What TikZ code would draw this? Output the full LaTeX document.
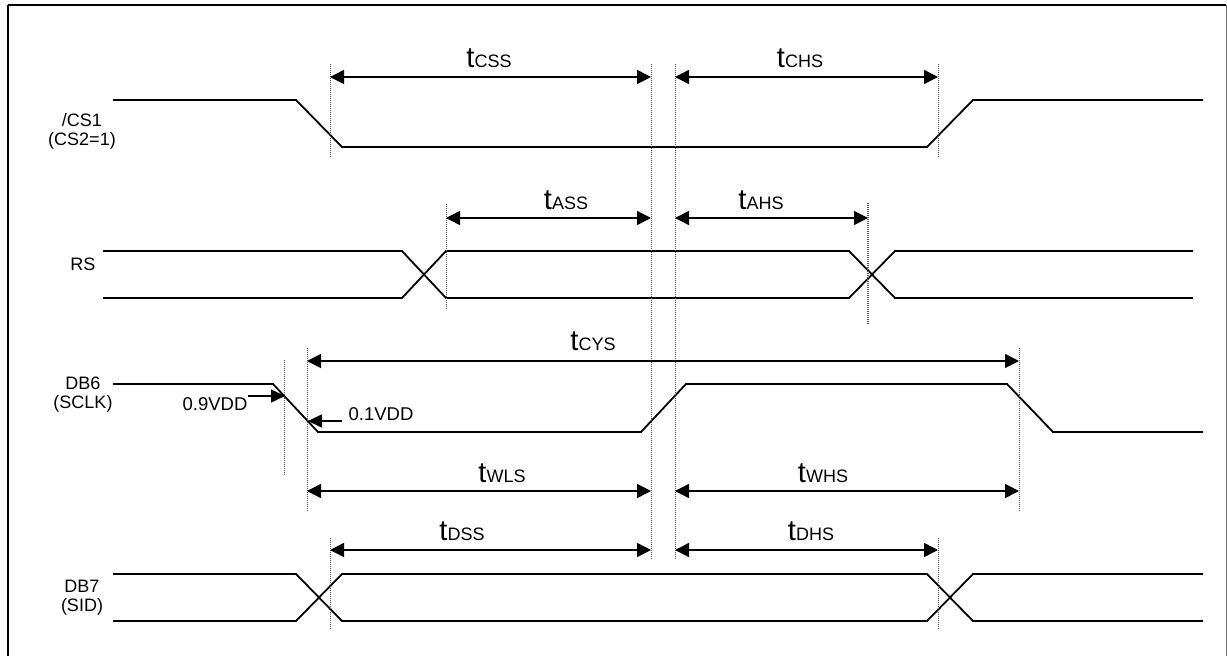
\documentclass[tikz,border=0pt]{standalone}
\usepackage{fontspec}
\setmainfont{Liberation Sans}
\usetikzlibrary{arrows.meta}
\tikzset{
    wave/.style = {line width=1.8pt, line join=miter},
    guide/.style = {line width=0.9pt, draw=black!65, dash pattern=on 1pt off 1pt},
    span/.style = {{Triangle[length=14pt,width=14pt]}-{Triangle[length=14pt,width=14pt]}, line width=1.6pt},
    pointer/.style = {-{Triangle[length=14pt,width=13pt]}, line width=1.6pt},
    signame/.style = {align=center, inner sep=0pt, font=\fontsize{18}{19}\selectfont},
    level/.style = {inner sep=0pt, font=\fontsize{18.5}{19}\selectfont},
    tlabel/.style = {anchor=base, inner sep=0pt},
}
\newcommand{\tname}[1]{{\fontsize{29}{29}\selectfont t}{\fontsize{18}{18}\selectfont #1}}

\begin{document}
\begin{tikzpicture}[x=1pt, y=-1pt]
\useasboundingbox (0,0) rectangle (1227,656);
%
\node[signame] at (82,131) (cs) {/CS1\\(CS2=1)};
\node[signame] at (83,264) (rs) {RS};
\node[signame] at (83,395) (db6) {DB6\\(SCLK)};
\node[signame] at (82,598) (db7) {DB7\\(SID)};
%
\draw[wave] (113,100) -- (296,100) -- (342,147) -- (927,147) -- (973,100) -- (1203,100);
\draw[wave] (103,251) -- (402,251) -- (446,298) -- (849,298) -- (895,251) -- (1193,251);
\draw[wave] (103,298) -- (402,298) -- (446,251) -- (849,251) -- (895,298) -- (1193,298);
\draw[wave] (113,384) -- (273,384) -- (318,432) -- (641,432) -- (686,384) -- (1007,384) -- (1053,432) -- (1203,432);
\draw[wave] (113,574) -- (296,574) -- (342,621) -- (927,621) -- (973,574) -- (1203,574);
\draw[wave] (113,621) -- (296,621) -- (342,574) -- (927,574) -- (973,621) -- (1203,621);
%
\draw[guide] (330,64) -- (330,157);
\draw[guide] (938,64) -- (938,157);
\draw[guide] (651,64) -- (651,560);
\draw[guide] (675,64) -- (675,560);
\draw[guide] (446,204) -- (446,310);
\draw[guide, line width=1.6pt] (868,203) -- (868,324);
\draw[guide] (284,360) -- (284,476);
\draw[guide] (307,348) -- (307,512);
\draw[guide] (1019,348) -- (1019,512);
\draw[guide] (330,538) -- (330,630);
\draw[guide] (938,538) -- (938,630);
%
\coordinate (css-a) at (330,77);  \coordinate (css-b) at (651,77);
\coordinate (chs-a) at (675,77);  \coordinate (chs-b) at (938,77);
\coordinate (ass-a) at (446,218); \coordinate (ass-b) at (651,218);
\coordinate (ahs-a) at (675,218); \coordinate (ahs-b) at (868,218);
\coordinate (cys-a) at (307,361); \coordinate (cys-b) at (1019,361);
\coordinate (wls-a) at (307,491); \coordinate (wls-b) at (651,491);
\coordinate (whs-a) at (675,491); \coordinate (whs-b) at (1019,491);
\coordinate (dss-a) at (330,550); \coordinate (dss-b) at (651,550);
\coordinate (dhs-a) at (675,550); \coordinate (dhs-b) at (938,550);
%
\draw[span] (css-a) -- (css-b);
\draw[span] (chs-a) -- (chs-b);
\draw[span] (ass-a) -- (ass-b);
\draw[span] (ahs-a) -- (ahs-b);
\draw[span] (cys-a) -- (cys-b);
\draw[span] (wls-a) -- (wls-b);
\draw[span] (whs-a) -- (whs-b);
\draw[span] (dss-a) -- (dss-b);
\draw[span] (dhs-a) -- (dhs-b);
%
\node[tlabel] at (489,67) (tcss) {\tname{CSS}};
\node[tlabel] at (800,67) (tchs) {\tname{CHS}};
\node[tlabel] at (566,209) (tass) {\tname{ASS}};
\node[tlabel] at (761,209) (tahs) {\tname{AHS}};
\node[tlabel] at (593,350) (tcys) {\tname{CYS}};
\node[tlabel] at (502,482) (twls) {\tname{WLS}};
\node[tlabel] at (823,482) (twhs) {\tname{WHS}};
\node[tlabel] at (462,540) (tdss) {\tname{DSS}};
\node[tlabel] at (811,540) (tdhs) {\tname{DHS}};
%
\node[level] at (215,404) (v9) {0.9VDD};
\node[level] at (381,414) (v1) {0.1VDD};
\coordinate (v9-tip) at (285,396);
\coordinate (v1-tip) at (308,421);
\draw[pointer] (v9.east |- v9-tip) -- (v9-tip);
\draw[pointer] (v1.west |- v1-tip) ++(-6,0) -- (v1-tip);

\path[draw=black, line width=1.6pt] (8,5) -- (8,670);
\path[draw=black, line width=1.6pt] (8,5) -- (1226,5);
\path[draw=black!55, line width=1pt] (1226,5) -- (1226,670);

\end{tikzpicture}
\end{document}
